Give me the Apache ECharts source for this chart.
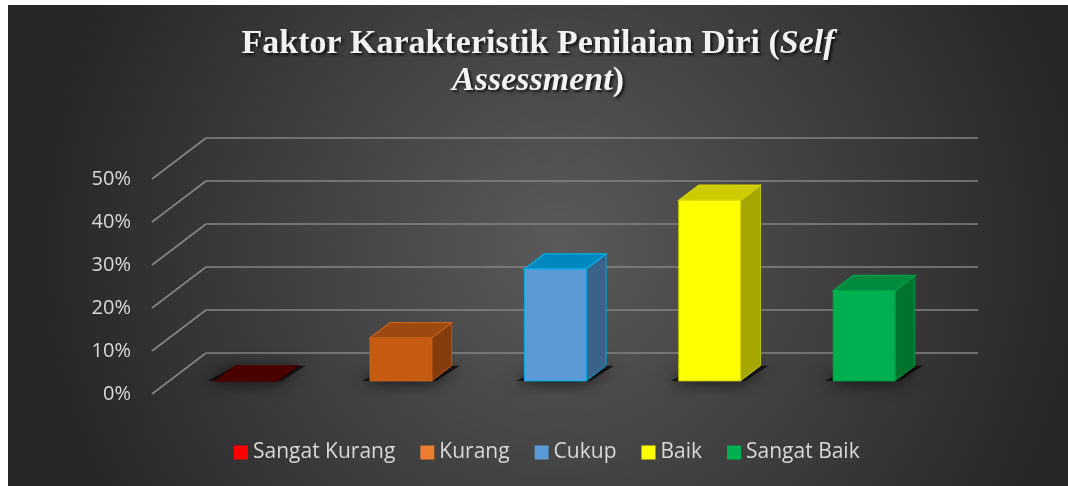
<!DOCTYPE html>
<html>
<head>
<meta charset="utf-8">
<script src="https://cdn.jsdelivr.net/npm/echarts@6/dist/echarts.min.js"></script>
<style>
  html, body { margin: 0; padding: 0; background: #fff; }
  #main { position: absolute; left: 8px; top: 5px; width: 1060px; height: 481px; }
</style>
</head>
<body>
<div id="main"></div>
<script>
// datos del grafico
const categories = ['Sangat Kurang', 'Kurang', 'Cukup', 'Baik', 'Sangat Baik'];
const values = [0, 10, 26, 42, 21];
const yTicks = [0, 10, 20, 30, 40, 50];
const legendColors = ['#FF0000', '#ED7D31', '#5B9BD5', '#FFFF00', '#00B050'];

// caras de cada barra 3D: frente, arriba, lado, borde
const faceColors = [
  { front: '#4B0000', top: '#4B0000', side: '#3A0000', border: '#4B0000' },
  { front: '#C55A11', top: '#9C480E', side: '#843C0C', border: '#C8621C' },
  { front: '#5B9BD5', top: '#0087BD', side: '#3A6389', border: '#00B0F0' },
  { front: '#FFFF00', top: '#CCCC00', side: '#A6A600', border: '#D6D600' },
  { front: '#00B050', top: '#008A3E', side: '#00742F', border: '#00A248' }
];

const depth = [-54, 41]; // vector desde la pared del fondo hasta el frente
const frontF = 0.68;     // profundidad de la cara frontal de la barra
const backF = 0.31;      // profundidad de la cara trasera

const chart = echarts.init(document.getElementById('main'));

function renderBar(idx) {
  return function (params, api) {
    const base = api.coord([api.value(0), 0]);
    const top = api.coord([api.value(0), api.value(1)]);
    const band = api.size([1, 0])[0];
    const w = band * 0.40;
    const c = faceColors[idx];
    const fx = base[0] + depth[0] * frontF, fy = depth[1] * frontF;
    const bx = base[0] + depth[0] * backF, by = depth[1] * backF;
    const yb = base[1], yt = top[1];
    const FL = [fx - w / 2, yt + fy], FR = [fx + w / 2, yt + fy];
    const BL = [bx - w / 2, yt + by], BR = [bx + w / 2, yt + by];
    const FLb = [fx - w / 2, yb + fy], FRb = [fx + w / 2, yb + fy];
    const BLb = [bx - w / 2, yb + by], BRb = [bx + w / 2, yb + by];
    const children = [
      {
        type: 'polygon',
        shape: { points: [[FLb[0] - 8, FLb[1]], [FRb[0] + 4, FRb[1]], [BRb[0] + 8, BRb[1]], [BLb[0], BLb[1]]] },
        style: { fill: 'rgba(0,0,0,0.7)', shadowBlur: 16, shadowColor: 'rgba(0,0,0,1)', shadowOffsetX: -3, shadowOffsetY: 2 },
        silent: true
      },
      {
        type: 'polygon',
        shape: { points: [FR, BR, BRb, FRb] },
        style: { fill: c.side, stroke: c.border, lineWidth: 0.8 }
      },
      {
        type: 'polygon',
        shape: { points: [FL, FR, BR, BL] },
        style: { fill: c.top, stroke: c.border, lineWidth: 1.2 }
      },
      {
        type: 'polygon',
        shape: { points: [FL, FR, FRb, FLb] },
        style: { fill: c.front, stroke: c.border, lineWidth: 1 }
      }
    ];
    return { type: 'group', children: children };
  };
}

const barSeries = categories.map(function (name, i) {
  return {
    name: name,
    type: 'custom',
    xAxisIndex: 0,
    yAxisIndex: 0,
    clip: false,
    z: 5,
    itemStyle: { color: legendColors[i] },
    renderItem: renderBar(i),
    data: [[i, values[i]]]
  };
});

// lineas diagonales de la pared lateral
const sideLines = {
  type: 'custom',
  xAxisIndex: 0,
  yAxisIndex: 0,
  clip: false,
  silent: true,
  z: 1,
  renderItem: function (params, api) {
    const p = api.coord([0, api.value(0)]);
    const band = api.size([1, 0])[0];
    const x0 = p[0] - band / 2;
    return {
      type: 'line',
      shape: { x1: x0, y1: p[1], x2: x0 + depth[0], y2: p[1] + depth[1] },
      style: { stroke: '#858585', lineWidth: 1.6 }
    };
  },
  data: yTicks.map(function (v) { return [v]; })
};

const titleStyle = {
  fontFamily: 'Liberation Serif', fontWeight: 'bold', fontSize: 34, lineHeight: 37,
  color: '#F2F2F2', textShadowColor: 'rgba(0,0,0,0.75)', textShadowBlur: 3,
  textShadowOffsetX: 2, textShadowOffsetY: 2
};

const option = {
  backgroundColor: new echarts.graphic.RadialGradient(0.52, 0.5, 1.1, [
    { offset: 0, color: '#5A5A5A' },
    { offset: 1, color: '#262626' }
  ]),
  title: {
    text: '{b|Faktor Karakteristik Penilaian Diri (}{bi|Self}\n{bi|Assessment}{b|)}',
    left: 'center',
    top: 21,
    padding: 0,
    textStyle: {
      rich: {
        b: titleStyle,
        bi: Object.assign({}, titleStyle, { fontStyle: 'italic' })
      }
    }
  },
  legend: {
    data: categories,
    left: 226,
    top: 437,
    padding: 0,
    icon: 'rect',
    itemWidth: 14,
    itemHeight: 14,
    itemGap: 25,
    textStyle: { color: '#D9D9D9', fontSize: 21, fontFamily: 'Open Sans' }
  },
  grid: [
    { left: 198, right: 90, top: 133, bottom: 133 },
    { left: 144, right: 144, top: 174, bottom: 92 }
  ],
  xAxis: [
    {
      gridIndex: 0, type: 'category', data: categories,
      axisLine: { show: false }, axisTick: { show: false }, axisLabel: { show: false },
      splitLine: { show: false }
    },
    {
      gridIndex: 1, type: 'category', data: categories, show: false
    }
  ],
  yAxis: [
    {
      gridIndex: 0, type: 'value', min: 0, max: 50, interval: 10,
      axisLine: { show: false }, axisTick: { show: false }, axisLabel: { show: false },
      splitLine: { show: true, lineStyle: { color: '#858585', width: 1.6 } }
    },
    {
      gridIndex: 1, type: 'value', min: 0, max: 50, interval: 10,
      axisLine: { show: false }, axisTick: { show: false }, splitLine: { show: false },
      axisLabel: {
        margin: 21, color: '#D9D9D9', fontSize: 20, fontFamily: 'Open Sans',
        formatter: '{value}%'
      }
    }
  ],
  series: [sideLines].concat(barSeries)
};

chart.setOption(option);
</script>
</body>
</html>
